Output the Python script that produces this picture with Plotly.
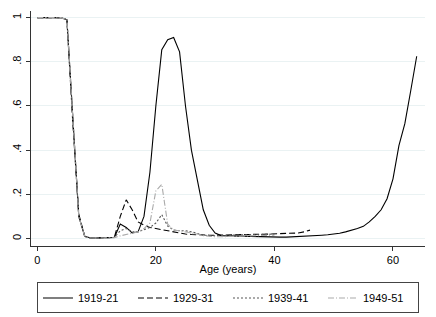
import plotly.graph_objects as go

ages_1919 = list(range(0, 65))
v_1919 = [1.0, 1.0, 1.0, 1.0, 1.0, 0.99, 0.52, 0.10, 0.01, 0.002,
          0.002, 0.002, 0.003, 0.005, 0.065, 0.05, 0.025, 0.03, 0.10, 0.30,
          0.60, 0.855, 0.90, 0.91, 0.845, 0.60, 0.40, 0.27, 0.13, 0.06,
          0.025, 0.013, 0.012, 0.011, 0.010, 0.009, 0.008, 0.007, 0.006, 0.006,
          0.005, 0.006, 0.006, 0.007, 0.008, 0.009, 0.011, 0.013, 0.015, 0.017,
          0.020, 0.024, 0.030, 0.036, 0.045, 0.055, 0.075, 0.10, 0.13, 0.18,
          0.27, 0.42, 0.52, 0.67, 0.825]

ages_1929 = list(range(0, 47))
v_1929 = [1.0, 1.0, 1.0, 1.0, 1.0, 0.99, 0.52, 0.11, 0.01, 0.002,
          0.002, 0.002, 0.003, 0.005, 0.10, 0.175, 0.13, 0.075, 0.06, 0.05,
          0.045, 0.04, 0.033, 0.027, 0.023, 0.02, 0.018, 0.016, 0.015, 0.015,
          0.015, 0.016, 0.016, 0.017, 0.017, 0.018, 0.018, 0.019, 0.019, 0.02,
          0.02, 0.021, 0.022, 0.023, 0.025, 0.03, 0.038]

ages_1939 = list(range(0, 41))
v_1939 = [1.0, 1.0, 1.0, 1.0, 1.0, 0.99, 0.52, 0.10, 0.01, 0.002,
          0.002, 0.002, 0.002, 0.005, 0.035, 0.045, 0.03, 0.03, 0.04, 0.05,
          0.07, 0.108, 0.056, 0.038, 0.035, 0.035, 0.03, 0.022, 0.016, 0.012,
          0.012, 0.013, 0.014, 0.015, 0.016, 0.017, 0.018, 0.018, 0.019, 0.02,
          0.02]

ages_1949 = list(range(0, 41))
v_1949 = [1.0, 1.0, 1.0, 1.0, 1.0, 0.99, 0.52, 0.10, 0.01, 0.002,
          0.002, 0.002, 0.002, 0.004, 0.012, 0.018, 0.022, 0.03, 0.045, 0.07,
          0.215, 0.245, 0.065, 0.038, 0.035, 0.03, 0.028, 0.02, 0.013, 0.01,
          0.008, 0.008, 0.009, 0.01, 0.011, 0.012, 0.013, 0.014, 0.014, 0.015,
          0.015]

y_ticks = [0, 0.2, 0.4, 0.6, 0.8, 1.0]
y_ticktext = ["0", ".2", ".4", ".6", ".8", "1"]
x_ticks = [0, 20, 40, 60]

series = [
    ("1919-21", ages_1919, v_1919, "#000000", "solid"),
    ("1929-31", ages_1929, v_1929, "#000000", "6px,3px"),
    ("1939-41", ages_1939, v_1939, "#555555", "2px,2px"),
    ("1949-51", ages_1949, v_1949, "#aaaaaa", "6px,2px,1px,2px"),
]

fig = go.Figure()
for name, x, y, col, dash in series:
    fig.add_trace(go.Scatter(x=x, y=y, mode="lines", name=name,
                             line=dict(color=col, width=1.1, dash=dash)))

font = dict(family="Liberation Sans, Arial, sans-serif", size=11, color="#000000")
fig.update_layout(
    width=428, height=309,
    margin=dict(l=23, r=11, t=3, b=71, autoexpand=False),
    paper_bgcolor="white", plot_bgcolor="white",
    font=font,
    showlegend=True,
    legend=dict(orientation="h", xref="container", x=0.514, xanchor="center",
                y=-0.155, yanchor="top",
                bordercolor="#444444", borderwidth=1, font=font,
                entrywidth=50, entrywidthmode="pixels", tracegroupgap=0),
    xaxis=dict(range=[-1.06, 65.4], tickvals=x_ticks, showgrid=False, zeroline=False,
               showline=True, linecolor="#333333", linewidth=1, automargin=False,
               ticks="outside", ticklen=4, tickcolor="#333333",
               title=dict(text="Age (years)", standoff=0, font=font)),
    yaxis=dict(range=[-0.034, 1.03], tickvals=y_ticks, ticktext=y_ticktext,
               tickangle=-90, showgrid=True, gridcolor="#eaf2f3", gridwidth=1,
               zeroline=False, showline=True, linecolor="#333333", linewidth=1,
               automargin=False, ticklabelstandoff=1,
               ticks="outside", ticklen=4, tickcolor="#333333"),
)

fig.write_html("out.html")
